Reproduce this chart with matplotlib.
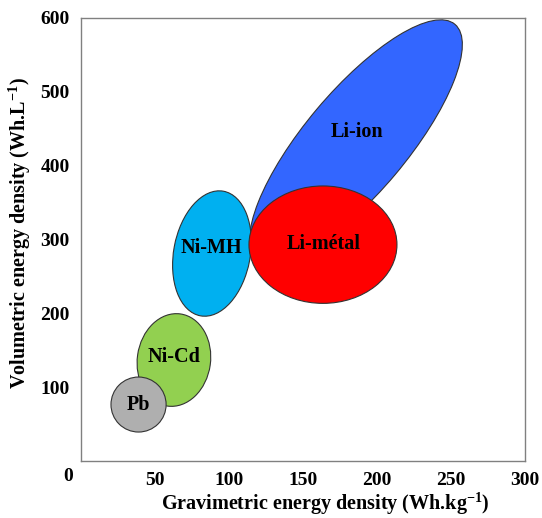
import matplotlib
matplotlib.use("Agg")
import matplotlib.pyplot as plt
from matplotlib.patches import Ellipse
from matplotlib.transforms import Affine2D

plt.rcParams['font.family'] = 'Liberation Serif'
plt.rcParams['font.weight'] = 'bold'
plt.rcParams['axes.labelweight'] = 'bold'
plt.rcParams['mathtext.fontset'] = 'custom'
plt.rcParams['mathtext.rm'] = 'Liberation Serif:bold'
plt.rcParams['mathtext.bf'] = 'Liberation Serif:bold'
plt.rcParams['mathtext.default'] = 'bf'

# battery families: centre (Wh/kg, Wh/L), size in tick steps (50 Wh/kg x 100 Wh/L), tilt
names = ['Li-ion', 'Ni-Cd', 'Ni-MH', 'Li-métal', 'Pb']
cx = [185.8, 62.8, 88.5, 163.5, 38.9]
cy = [432.1, 136.8, 281.0, 293.0, 76.5]
w = [4.16, 0.99, 1.035, 2.0, 0.745]
h = [1.38, 1.26, 1.716, 1.59, 0.745]
tilt = [50, -8, -10.4, 0, 0]
colors = ['#3366FF', '#92D050', '#00B0F0', '#FF0000', '#AFAFAF']
# label anchor points
lx = [186.5, 62.7, 88.3, 163.7, 38.5]
ly = [445.6, 140.5, 288.9, 293.5, 76.4]

xticks = [50, 100, 150, 200, 250, 300]
yticks = [100, 200, 300, 400, 500, 600]

fig = plt.figure(figsize=(5.42, 5.18), dpi=100)
ax = fig.add_axes([0.1494, 0.110, 0.8192, 0.8553])
ax.set_xlim(0, 300)
ax.set_ylim(0, 600)

# one tick step is about the same number of pixels on both axes
step = Affine2D().scale(50, 100) + ax.transData
for i in range(len(names)):
    e = Ellipse((cx[i] / 50, cy[i] / 100), w[i], h[i], angle=tilt[i],
                facecolor=colors[i], edgecolor='#333333', lw=0.8, transform=step)
    ax.add_patch(e)
    ax.text(lx[i], ly[i], names[i], fontsize=14.5, ha='center', va='center')

ax.set_xticks(xticks)
ax.set_yticks(yticks)
ax.tick_params(length=0, labelsize=14, pad=8)
ax.annotate('0', xy=(0, 0), xytext=(-13, -15.5), textcoords='offset pixels',
            fontsize=14, ha='center', va='center', annotation_clip=False)
for s in ax.spines.values():
    s.set_color('#808080')
    s.set_linewidth(1.0)

ax.set_xlabel(r'Gravimetric energy density (Wh.kg$^{-1}$)', fontsize=14.5)
ax.set_ylabel(r'Volumetric energy density (Wh.L$^{-1}$)', fontsize=14.5)
ax.xaxis.set_label_coords(0.55, -0.068)
ax.yaxis.set_label_coords(-0.108, 0.515)

fig.savefig('out.png', dpi=100)
